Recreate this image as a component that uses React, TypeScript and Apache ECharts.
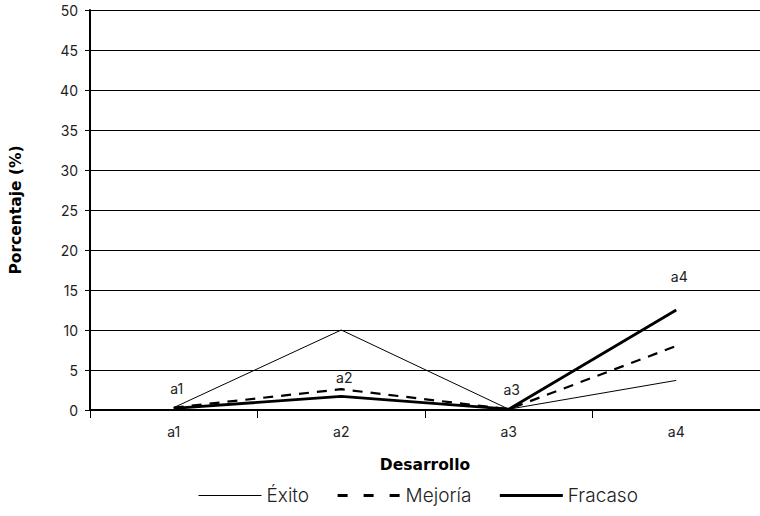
import React, { useEffect, useRef } from "react";
import * as echarts from "echarts";

const categories = ["a1", "a2", "a3", "a4"];
const exito = [0.3, 10, 0.1, 3.7];
const mejoria = [0.3, 2.6, 0.1, 8];
const fracaso = [0.2, 1.7, 0.1, 12.5];
const yTicks = { min: 0, max: 50, interval: 5 };

const FONT = "Inter";
const TITLE_FONT = "DejaVu Sans";

export default function App() {
  const ref = useRef<HTMLDivElement>(null);
  useEffect(() => {
    document.body.style.margin = "0";
    const chart = echarts.init(ref.current!, null, { renderer: "svg" });
    const lbl = (name: string, dist: number) => ({
      show: true,
      position: "top",
      distance: dist,
      offset: [3, 0],
      formatter: name,
      color: "#222",
      opacity: 1,
      fontSize: 14,
      fontFamily: FONT,
    });
    const mk = (arr: number[], labels: { [k: number]: any }) =>
      arr.map((v, i) => (labels[i] ? { value: v, label: labels[i] } : v));
    const common = {
      type: "line",
      symbol: "circle",
      symbolSize: 1,
      showSymbol: true,
      itemStyle: { color: "rgba(0,0,0,0)", borderWidth: 0 },
      label: { show: false },
    };
    chart.setOption({
      animation: false,
      backgroundColor: "#fff",
      textStyle: { fontFamily: FONT },
      grid: { left: 89, right: -1, top: 10, bottom: 106 },
      xAxis: {
        type: "category",
        data: categories,
        boundaryGap: true,
        axisLine: { lineStyle: { color: "#000", width: 2 } },
        axisTick: { show: true, length: 8, lineStyle: { color: "#000", width: 1 } },
        axisLabel: { color: "#222", fontSize: 14, fontFamily: FONT, margin: 14 },
        name: "Desarrollo",
        nameLocation: "middle",
        nameGap: 47,
        nameTextStyle: { color: "#000", fontSize: 15.5, fontWeight: "bold", fontFamily: TITLE_FONT },
      },
      yAxis: {
        type: "value",
        min: yTicks.min,
        max: yTicks.max,
        interval: yTicks.interval,
        axisLine: { show: true, lineStyle: { color: "#000", width: 2 } },
        axisTick: { show: true, inside: false, length: 5, lineStyle: { color: "#000" } },
        axisLabel: { color: "#222", fontSize: 14, fontFamily: FONT, margin: 12 },
        splitLine: { show: true, lineStyle: { color: "#000", width: 1 } },
        name: "Porcentaje (%)",
        nameLocation: "middle",
        nameGap: 66,
        nameRotate: 90,
        nameTextStyle: { color: "#000", fontSize: 15.5, fontWeight: "bold", fontFamily: TITLE_FONT },
      },
      legend: {
        bottom: 6,
        left: 193,
        itemWidth: 63,
        itemHeight: 10,
        itemGap: 27,
        itemStyle: { opacity: 0 },
        textStyle: { color: "#222", fontSize: 19, fontFamily: FONT, fontWeight: 300 },
        data: [
          { name: "Éxito", lineStyle: { width: 1, color: "#000" } },
          { name: "Mejoría", lineStyle: { width: 3, type: [10, 16], color: "#000" } },
          { name: "Fracaso", lineStyle: { width: 3, color: "#000" } },
        ],
      },
      series: [
        {
          ...common,
          name: "Éxito",
          data: mk(exito, { 0: lbl("a1", 12), 2: lbl("a3", 12) }),
          lineStyle: { color: "#000", width: 1 },
        },
        {
          ...common,
          name: "Mejoría",
          data: mk(mejoria, { 1: lbl("a2", 4) }),
          lineStyle: { color: "#000", width: 2.2, type: [10, 8] },
        },
        {
          ...common,
          name: "Fracaso",
          data: mk(fracaso, { 3: lbl("a4", 26) }),
          lineStyle: { color: "#000", width: 2.8 },
        },
      ],
    });
    return () => chart.dispose();
  }, []);
  return <div ref={ref} style={{ width: 760, height: 516 }} />;
}
